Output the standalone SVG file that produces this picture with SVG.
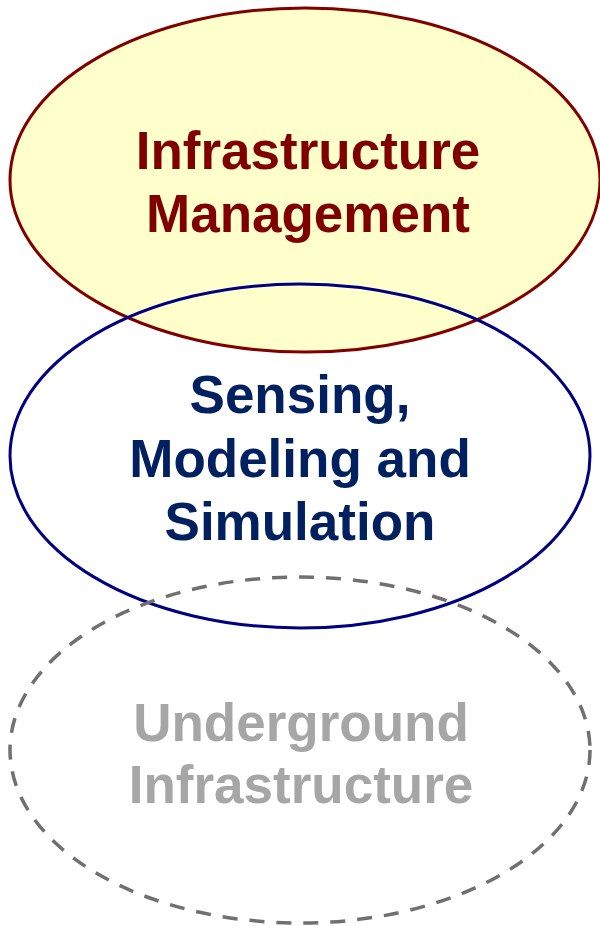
<svg xmlns="http://www.w3.org/2000/svg" width="600" height="926" viewBox="0 0 600 926">
<style>
.lbl{font-family:"Liberation Sans",Arial,sans-serif;font-weight:bold;font-size:53px;text-anchor:middle}
.e{stroke-width:3}
</style>
<rect width="600" height="926" fill="#ffffff"/>
<g id="node-management">
<ellipse class="e" cx="305" cy="180" rx="295" ry="172" fill="#FFFFCC" stroke="#800000"/>
<text class="lbl" fill="#800000"><tspan x="308" y="169">Infrastructure</tspan><tspan x="308" y="232">Management</tspan></text>
</g>
<g id="node-sensing">
<ellipse class="e" cx="300" cy="456" rx="290" ry="172" fill="none" stroke="#000080"/>
<text class="lbl" fill="#002060"><tspan x="300" y="413">Sensing,</tspan><tspan x="300" y="477">Modeling and</tspan><tspan x="300" y="540">Simulation</tspan></text>
</g>
<g id="node-underground">
<ellipse cx="300" cy="750" rx="290" ry="173" fill="none" stroke="#707070" stroke-width="3.5" stroke-dasharray="15 12"/>
<text class="lbl" fill="#A6A6A6"><tspan x="301" y="741">Underground</tspan><tspan x="301" y="803">Infrastructure</tspan></text>
</g>
<g id="connectors"></g>
</svg>
